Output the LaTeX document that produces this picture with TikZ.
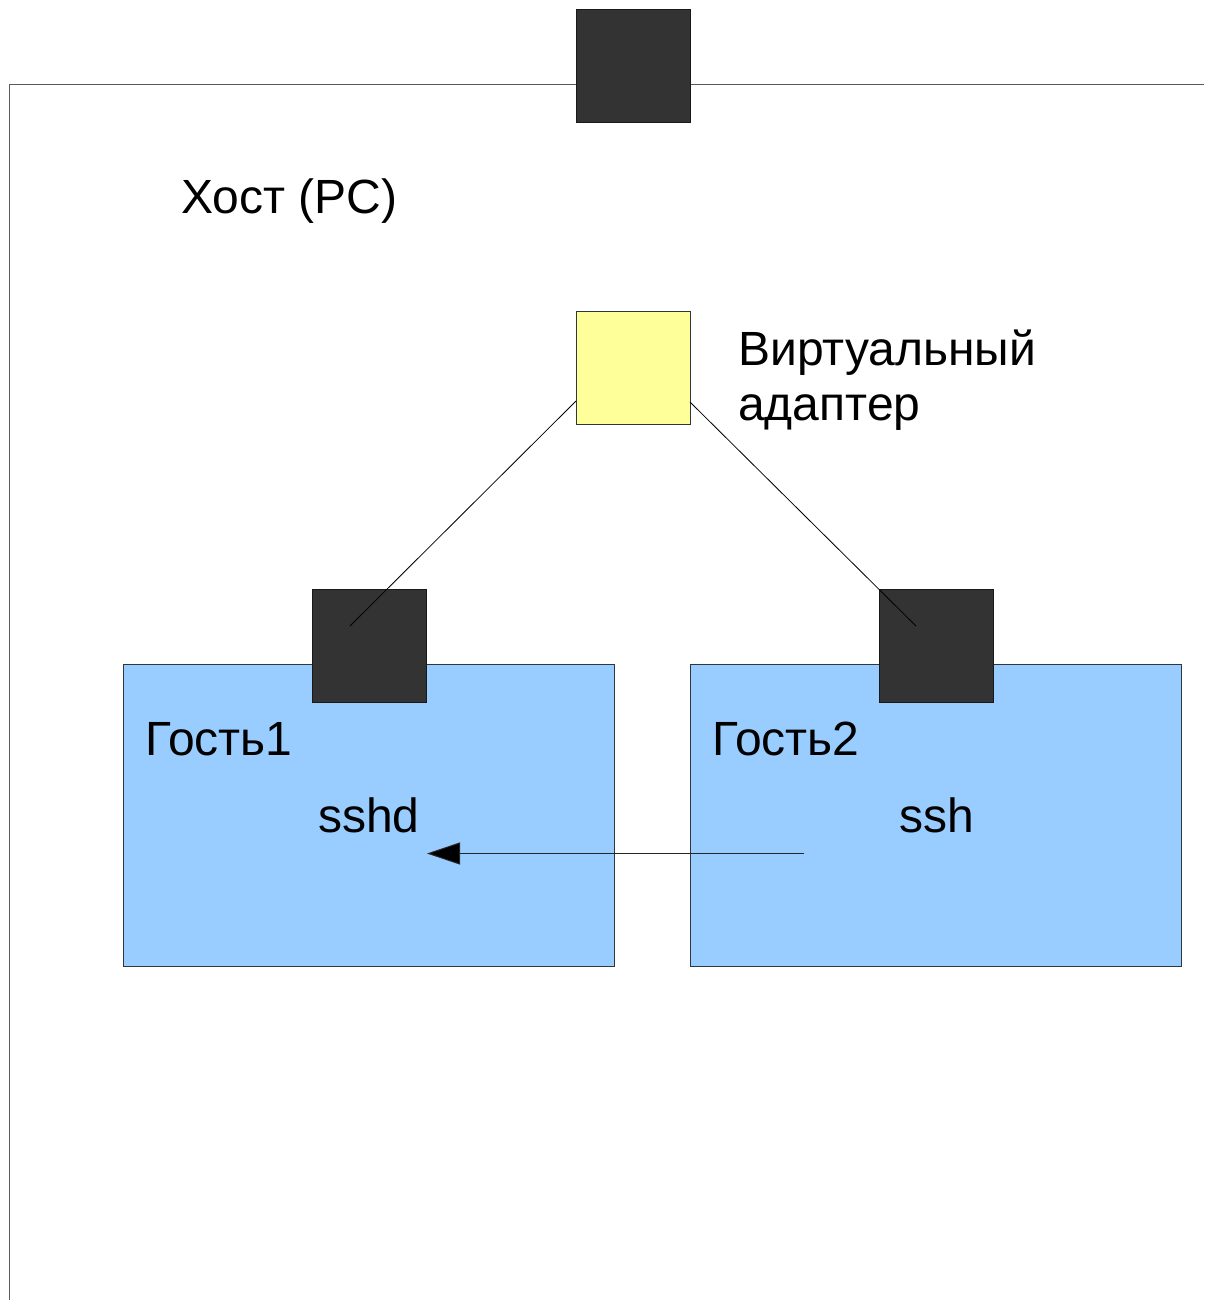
\documentclass[tikz,border=0pt]{standalone}
\usepackage{fontspec}
\setmainfont{Liberation Sans}
\usetikzlibrary{arrows.meta}
\definecolor{portfill}{HTML}{333333}
\definecolor{adapterfill}{HTML}{FFFF99}
\definecolor{guestfill}{HTML}{99CCFF}
\definecolor{edgecol}{HTML}{2E3740}
\definecolor{hostcol}{HTML}{5A5A5A}
\tikzset{
  port/.style={rectangle, draw=black!90, fill=portfill, line width=0.75pt, inner sep=0pt, minimum width=85.5pt, minimum height=84.75pt},
  adapter/.style={rectangle, draw=edgecol, fill=adapterfill, line width=0.75pt, inner sep=0pt, minimum width=85.5pt, minimum height=84.75pt},
  guest/.style={rectangle, draw=edgecol, fill=guestfill, line width=0.75pt, inner sep=0pt, minimum width=368.25pt, minimum height=226.5pt},
  label/.style={inner sep=0pt, anchor=base west, font=\fontsize{36pt}{41.25pt}\selectfont},
  wire/.style={draw=black, line width=0.6pt},
}
\begin{document}
\begin{tikzpicture}[x=0.75pt, y=-0.75pt]
\useasboundingbox (0,0) rectangle (1204,1300);
% host frame
\coordinate (hostTR) at (1204,84.5);
\coordinate (hostTL) at (9.5,84.5);
\coordinate (hostBL) at (9.5,1300);
\draw[hostcol, line width=1.3pt] (hostTR) -- (hostTL) -- (hostBL);
% nodes
\node[port] (uplink) at (633,65.5) {};
\node[adapter] (vadapter) at (633,367.5) {};
\node[guest] (guest1) at (368.5,815) {};
\node[guest] (guest2) at (935.5,815) {};
\node[port] (port1) at (369,645.5) {};
\node[port] (port2) at (936,645.5) {};
% labels
\node[label] (hostlbl) at (181,213) {Хост (PC)};
\node[label, align=left] (adlbl) at (738,420) {Виртуальный\\адаптер};
\node[label] (g1lbl) at (145,755) {Гость1};
\node[label] (g2lbl) at (712,755) {Гость2};
\node[label] (sshdlbl) at (318,832) {sshd};
\node[label] (sshlbl) at (899,832) {ssh};
% wires
\coordinate (w1a) at (576,401);
\coordinate (w1b) at (350,626);
\coordinate (w2a) at (690,402);
\coordinate (w2b) at (916,626);
\draw[wire] (w1a) -- (w1b);
\draw[wire] (w2a) -- (w2b);
% ssh connection arrow
\coordinate (arrfrom) at (804,853.5);
\coordinate (arrto) at (427,853.5);
\draw[draw=black!85, line width=0.75pt, -{Triangle[length=24.75pt, width=16.5pt, fill=black]}] (arrfrom) -- (arrto);
\end{tikzpicture}
\end{document}
